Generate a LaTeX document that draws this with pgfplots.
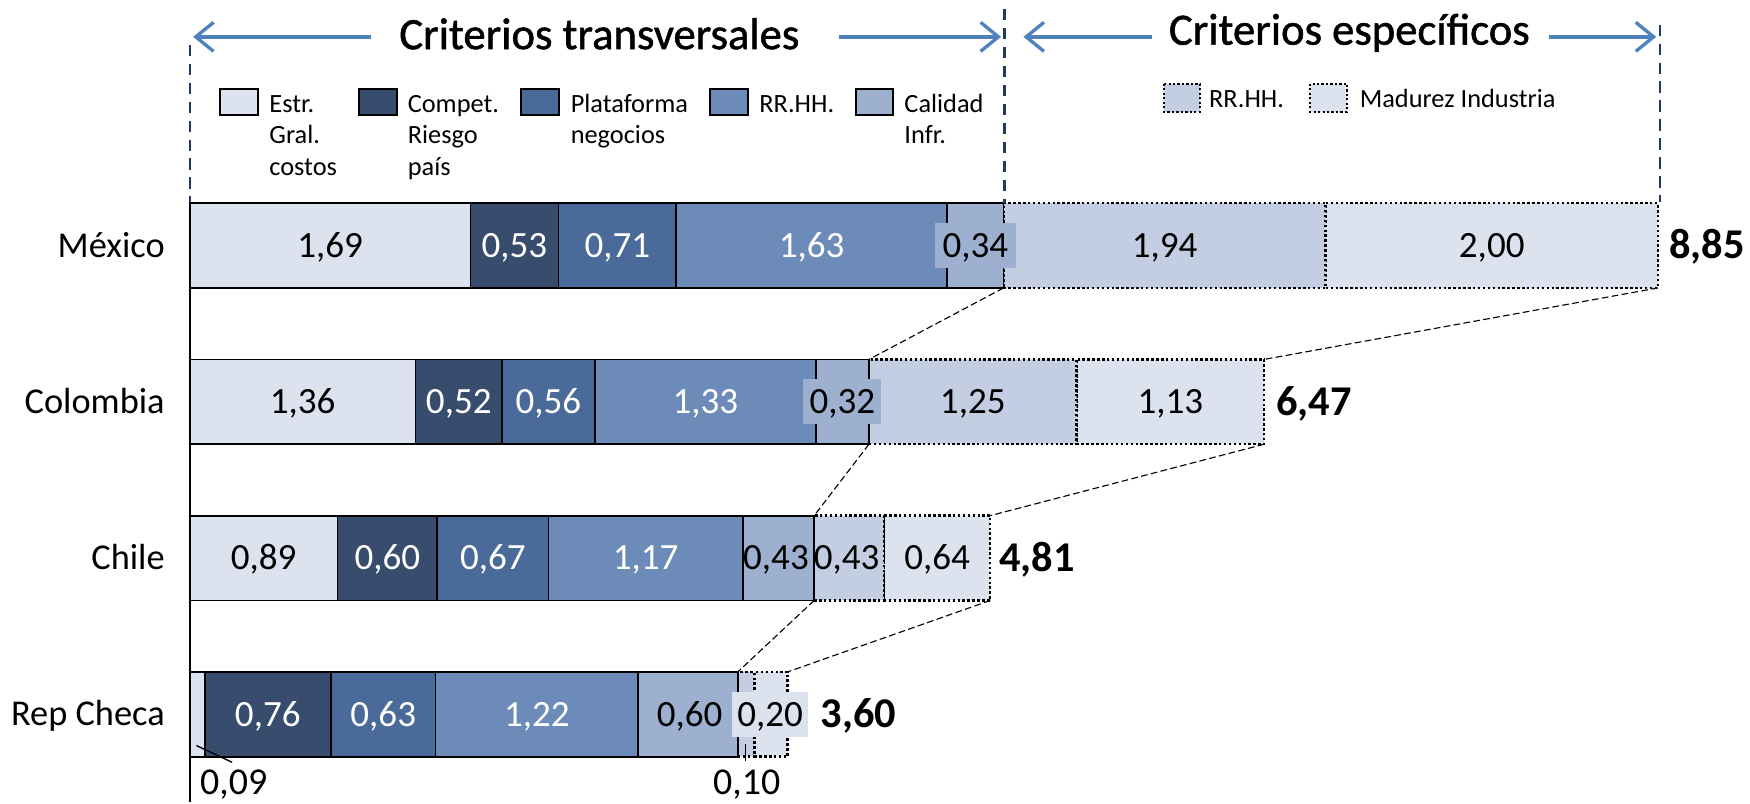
\documentclass[border=0pt]{standalone}
\usepackage{pgfplots}
\pgfplotsset{compat=1.18}
\usepackage{fontspec}
\setmainfont{Carlito}
\newfontfamily\titlefont{Carlito}[FakeBold=1.2]
\usetikzlibrary{arrows.meta}
\definecolor{cEstr}{HTML}{DDE3EE}
\definecolor{cComp}{HTML}{384C6E}
\definecolor{cPlat}{HTML}{4A6B99}
\definecolor{cRRHH}{HTML}{6C8BB8}
\definecolor{cCal}{HTML}{9DB0CF}
\definecolor{cRRHHb}{HTML}{C3CEE2}
\definecolor{cMad}{HTML}{DDE3EE}
\definecolor{navy}{HTML}{1F3864}
\definecolor{arrowblue}{HTML}{4F81BD}
\tikzset{
  vl/.style={font=\fontsize{16.6}{19}\selectfont, text height=10.5pt, text depth=0pt, inner sep=0pt, anchor=center},
  vw/.style={vl, text=white},
  tot/.style={font=\bfseries\fontsize{19}{22}\selectfont, text height=12pt, text depth=0pt, inner sep=0pt, anchor=west},
  cty/.style={font=\fontsize{16.3}{19}\selectfont, text height=10.4pt, text depth=0pt, inner sep=0pt, anchor=east},
  conn/.style={line width=0.5pt, dash pattern=on 3pt off 1.5pt},
  lg/.style={font=\fontsize{11.8}{14}\selectfont, anchor=base west, inner sep=0pt},
  arr/.style={arrowblue, line width=1.5pt, -{Straight Barb[length=8pt,width=13pt,line width=1.5pt]}},
}
\begin{document}
\begin{tikzpicture}
\begin{axis}[
  at={(0,0)}, anchor=north west,
  x=74.4pt, y=70pt, y dir=reverse,
  xmin=-1.14247, xmax=9.39516, ymin=-1.57143, ymax=3.56429,
  hide axis, clip=false,
  xbar stacked, bar width=38pt,
]
\path (axis cs:-1.14247,-1.57143) rectangle (axis cs:9.39516,3.56429);
% connectors
\draw[conn] (axis cs:4.90,0.2714) -- (axis cs:4.09,0.7286);
\draw[conn] (axis cs:8.84,0.2714) -- (axis cs:6.47,0.7286);
\draw[conn] (axis cs:4.09,1.2714) -- (axis cs:3.76,1.7286);
\draw[conn] (axis cs:6.47,1.2714) -- (axis cs:4.82,1.7286);
\draw[conn] (axis cs:3.76,2.2714) -- (axis cs:3.30,2.7286);
\draw[conn] (axis cs:4.82,2.2714) -- (axis cs:3.60,2.7286);
% bars
\addplot[fill=cEstr, draw=black, line width=0.8pt] coordinates {(1.69,0) (1.36,1) (0.89,2) (0.09,3)};
\addplot[fill=cComp, draw=black, line width=0.8pt] coordinates {(0.53,0) (0.52,1) (0.60,2) (0.76,3)};
\addplot[fill=cPlat, draw=black, line width=0.8pt] coordinates {(0.71,0) (0.56,1) (0.67,2) (0.63,3)};
\addplot[fill=cRRHH, draw=black, line width=0.8pt] coordinates {(1.63,0) (1.33,1) (1.17,2) (1.22,3)};
\addplot[fill=cCal, draw=black, line width=0.8pt] coordinates {(0.34,0) (0.32,1) (0.43,2) (0.60,3)};
\addplot[fill=cRRHHb, draw=black, line width=1.1pt, dash pattern=on 1.1pt off 1.1pt] coordinates {(1.94,0) (1.25,1) (0.42,2) (0.10,3)};
\addplot[fill=cMad, draw=black, line width=1.1pt, dash pattern=on 1.1pt off 1.1pt] coordinates {(2.00,0) (1.13,1) (0.64,2) (0.20,3)};
\end{axis}
% data-coordinate scope: x unit 74.4pt, origin at (85pt,-110pt), y downward 70pt
\begin{scope}[x=74.4pt, y=-70pt, shift={(85pt,-110pt)}]
% labels Mexico
\node[vl] at (0.845,0) {1,69};
\node[vw] at (1.955,0) {0,53};
\node[vw] at (2.575,0) {0,71};
\node[vw] at (3.745,0) {1,63};
\node[vl, fill=cCal, minimum width=36pt, minimum height=20pt] at (4.731,0) {0,34};
\node[vl] at (5.87,0) {1,94};
\node[vl] at (7.84,0) {2,00};
% Colombia
\node[vl] at (0.68,1) {1,36};
\node[vw] at (1.62,1) {0,52};
\node[vw] at (2.16,1) {0,56};
\node[vw] at (3.105,1) {1,33};
\node[vl, fill=cCal, minimum width=35pt, minimum height=20pt] at (3.93,1) {0,32};
\node[vl] at (4.715,1) {1,25};
\node[vl] at (5.905,1) {1,13};
% Chile
\node[vl] at (0.445,2) {0,89};
\node[vw] at (1.19,2) {0,60};
\node[vw] at (1.825,2) {0,67};
\node[vw] at (2.745,2) {1,17};
\node[vl] at (3.53,2) {0,43};
\node[vl] at (3.955,2) {0,43};
\node[vl] at (4.50,2) {0,64};
% Rep Checa
\node[vw] at (0.47,3) {0,76};
\node[vw] at (1.165,3) {0,63};
\node[vw] at (2.09,3) {1,22};
\node[vl] at (3.01,3) {0,60};
\node[vl, fill=cMad, minimum width=34pt, minimum height=20pt] at (3.495,3) {0,20};
% totals
\node[tot] at (8.905,0) {8,85};
\node[tot] at (6.539,1) {6,47};
\node[tot] at (4.872,2) {4,81};
\node[tot] at (3.797,3) {3,60};
% countries
\node[cty] at (-0.148,0) {México};
\node[cty] at (-0.148,1) {Colombia};
\node[cty] at (-0.148,2) {Chile};
\node[cty] at (-0.148,3) {Rep Checa};
\end{scope}
\begin{scope}[x=0.5pt, y=-0.5pt]
% axis line
\draw[line width=0.8pt] (170,181) -- (170,719);
% dashed separators
\draw[navy, line width=1pt, dash pattern=on 5pt off 3.5pt] (170,40) -- (170,181);
\draw[navy, line width=1pt, dash pattern=on 5pt off 3.5pt] (900,8) -- (900,182);
\draw[navy, line width=1pt, dash pattern=on 5pt off 3.5pt] (1487,22) -- (1487,181);
% arrows and titles
\draw[arr] (332,33) -- (173,33);
\draw[arr] (752,33) -- (897,33);
\draw[arr] (1032,33) -- (917,33);
\draw[arr] (1388,33) -- (1484,33);
\node[font=\titlefont\fontsize{20}{24}\selectfont, anchor=base, inner sep=0pt] at (537,44) {Criterios transversales};
\node[font=\titlefont\fontsize{20}{24}\selectfont, anchor=base, inner sep=0pt] at (1209,40) {Criterios específicos};
% legend 1
\draw[fill=cEstr, line width=1pt] (197,80) rectangle (231,103);
\draw[fill=cComp, line width=1pt] (322,80) rectangle (356,103);
\draw[fill=cPlat, line width=1pt] (467,80) rectangle (501,103);
\draw[fill=cRRHH, line width=1pt] (636,80) rectangle (670,103);
\draw[fill=cCal, line width=1pt] (767,80) rectangle (800,103);
\node[lg] at (241,101) {Estr.};
\node[lg] at (241,129) {Gral.};
\node[lg] at (241,157) {costos};
\node[lg] at (365,101) {Compet.};
\node[lg] at (365,129) {Riesgo};
\node[lg] at (365,157) {país};
\node[lg] at (511,101) {Plataforma};
\node[lg] at (511,129) {negocios};
\node[lg] at (680,101) {RR.HH.};
\node[lg] at (810,101) {Calidad};
\node[lg] at (810,129) {Infr.};
% legend 2
\draw[fill=cRRHHb, line width=1pt, dash pattern=on 1pt off 1pt] (1043,75) rectangle (1075,100);
\draw[fill=cMad, line width=1pt, dash pattern=on 1pt off 1pt] (1174,75) rectangle (1207,100);
\node[lg] at (1083,96) {RR.HH.};
\node[lg] at (1218,96) {Madurez Industria};
% bottom labels
\draw[line width=0.6pt] (176,668) -- (208,683);
\draw[line width=0.6pt] (668,667) -- (668,682);
\node[font=\fontsize{17}{20}\selectfont, anchor=base west, inner sep=0pt] at (179,712) {0,09};
\node[font=\fontsize{17}{20}\selectfont, anchor=base, inner sep=0pt] at (669,712) {0,10};
\end{scope}
\end{tikzpicture}
\end{document}
